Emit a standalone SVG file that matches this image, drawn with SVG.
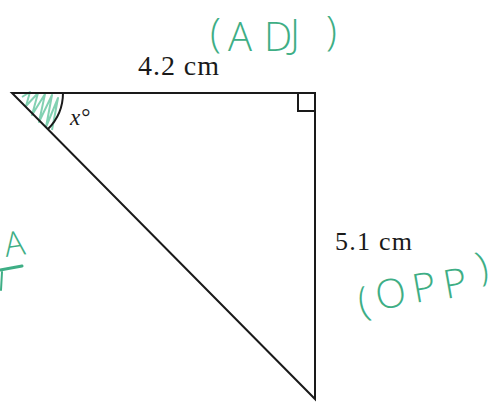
<svg xmlns="http://www.w3.org/2000/svg" width="494" height="403" viewBox="0 0 494 403">
<style>
.edge{fill:none;stroke:#1a1a1a;stroke-width:2;stroke-linejoin:miter}
.lbl{fill:#1a1a1a;font-family:"Liberation Serif","Times New Roman",serif}
.hand{fill:#3eae85;font-family:"Open Sans","Liberation Sans",Arial,sans-serif;font-weight:300}
.hatch{fill:none;stroke:#6cc9a4;stroke-width:2;stroke-linejoin:round;opacity:0.85}
</style>
<rect width="494" height="403" fill="#ffffff"/>
<g id="triangle">
<path class="hatch" d="M22,97 L30,92 L26,106 L38,93 L32,115 L45,94 L39,122 L52,95 L46,127 L58,98 L52,130"/>
<path class="edge" d="M12,93 L315,93 L315,399 Z"/>
<path class="edge" d="M298,93 L298,111 L315,111"/>
<path class="edge" d="M63,93 A51,51 0 0 1 48,129"/>
</g>
<g id="labels">
<text class="lbl" x="138" y="75" font-size="28" textLength="81" lengthAdjust="spacing">4.2 cm</text>
<text class="lbl" x="335" y="250" font-size="26" textLength="77" lengthAdjust="spacing">5.1 cm</text>
<text class="lbl" x="70" y="125" font-size="23"><tspan font-style="italic">x</tspan><tspan dx="1">°</tspan></text>
</g>
<g id="annotations">
<text class="hand" font-size="40" x="210 228 264 290 326" y="47 51 51 48 45">(ADJ)</text>
<text class="hand" font-size="40" x="361 378 415 446" y="316 310 303 299" rotate="-12 -10 -10 -10">(OPP</text>
<text class="hand" font-size="40" x="480" y="281" rotate="-14">)</text>
<text class="hand" font-size="34" x="6" y="257" rotate="-8">A</text>
<path d="M0,270 L22,266" fill="none" stroke="#3eae85" stroke-width="3" stroke-linecap="round"/>
<path d="M2,272 L1,290" fill="none" stroke="#3eae85" stroke-width="2" stroke-linecap="round"/>
</g>
</svg>
